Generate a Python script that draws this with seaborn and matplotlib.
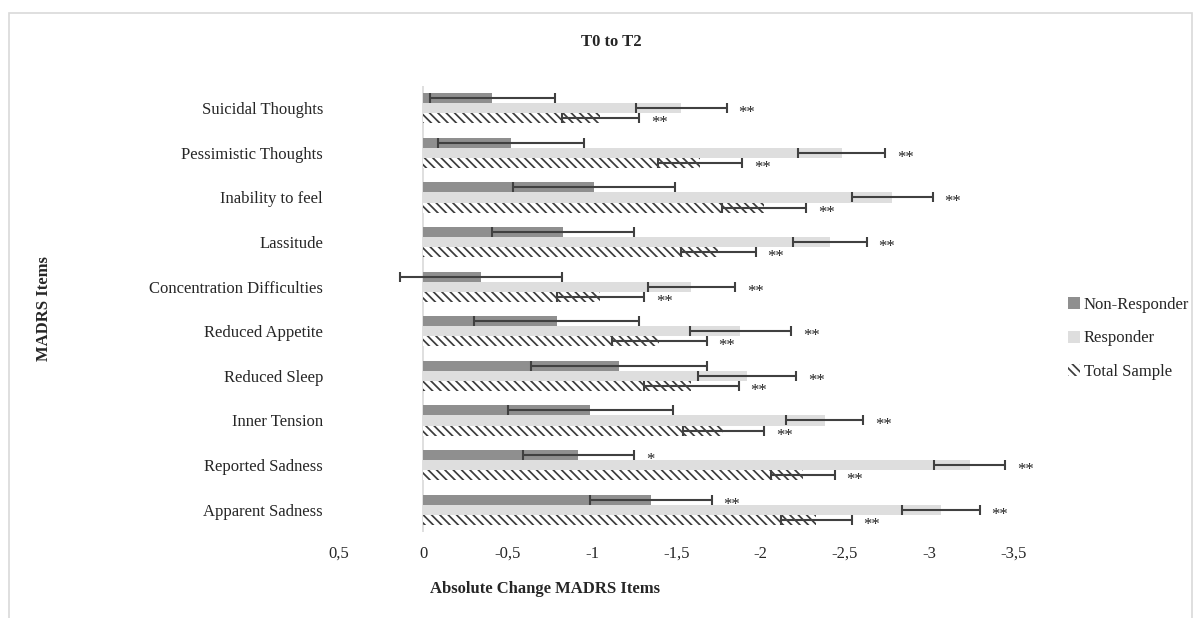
import matplotlib
matplotlib.use("Agg")
import matplotlib.pyplot as plt
import seaborn as sns
import pandas as pd
from matplotlib.patches import Rectangle, Patch

# ---------------- data ----------------
items = ["Suicidal Thoughts", "Pessimistic Thoughts", "Inability to feel", "Lassitude",
         "Concentration Difficulties", "Reduced Appetite", "Reduced Sleep", "Inner Tension",
         "Reported Sadness", "Apparent Sadness"]
groups = ["Non-Responder", "Responder", "Total Sample"]

non_responder = [-0.41, -0.52, -1.01, -0.83, -0.34, -0.79, -1.16, -0.99, -0.92, -1.35]
responder = [-1.53, -2.48, -2.78, -2.41, -1.59, -1.88, -1.92, -2.38, -3.24, -3.07]
total_sample = [-1.05, -1.64, -2.02, -1.75, -1.05, -1.40, -1.59, -1.78, -2.25, -2.33]

non_responder_err = [0.37, 0.43, 0.48, 0.42, 0.48, 0.49, 0.52, 0.49, 0.33, 0.36]
responder_err = [0.27, 0.26, 0.24, 0.22, 0.26, 0.30, 0.29, 0.23, 0.21, 0.23]
total_sample_err = [0.23, 0.25, 0.25, 0.22, 0.26, 0.28, 0.28, 0.24, 0.19, 0.21]

non_responder_sig = ["", "", "", "", "", "", "", "", "*", "**"]
responder_sig = ["**", "**", "**", "**", "**", "**", "**", "**", "**", "**"]
total_sample_sig = ["**", "**", "**", "**", "**", "**", "**", "**", "**", "**"]

x_ticks = [0.5, 0, -0.5, -1, -1.5, -2, -2.5, -3, -3.5]
x_tick_labels = ["0,5", "0", "-0,5", "-1", "-1,5", "-2", "-2,5", "-3", "-3,5"]

title = "T0 to T2"
x_title = "Absolute Change MADRS Items"
y_title = "MADRS Items"

# ---------------- style ----------------
sns.set_theme(style="white")
plt.rcParams["font.family"] = ["Liberation Serif", "DejaVu Serif"]
plt.rcParams["hatch.linewidth"] = 1.25

colors = ["#8f8f8f", "#dedede", "#ffffff"]
hatch_color = "#3c3c3c"
err_color = "#404040"

W, H = 1202, 618
fig = plt.figure(figsize=(W / 100, H / 100), dpi=100)
ax = fig.add_axes([339 / W, 1 - 532 / H, (1013.5 - 339) / W, (532 - 86) / H])

rows = []
vals = [non_responder, responder, total_sample]
for g, v in zip(groups, vals):
    for it, val in zip(items, v):
        rows.append({"item": it, "group": g, "value": val})
df = pd.DataFrame(rows)

sns.barplot(data=df, x="value", y="item", hue="group", order=items, hue_order=groups,
            palette=colors, orient="h", errorbar=None, width=0.68, saturation=1,
            legend=False, ax=ax, linewidth=0)

errs = [non_responder_err, responder_err, total_sample_err]
sigs = [non_responder_sig, responder_sig, total_sample_sig]

bar_containers = list(ax.containers)
for k, cont in enumerate(bar_containers):
    ys, xs = [], []
    for bar in cont:
        ys.append(bar.get_y() + bar.get_height() / 2)
        xs.append(bar.get_width())
        if k == 2:
            bar.set_facecolor("white")
            bar.set_hatch("\\\\\\\\")
            bar.set_edgecolor(hatch_color)
            bar.set_linewidth(0)
    ax.errorbar(xs, ys, xerr=errs[k], fmt="none", ecolor=err_color, elinewidth=1.5,
                capsize=3.6, capthick=1.5, zorder=5)
    for x, y, e, s in zip(xs, ys, errs[k], sigs[k]):
        if s:
            ax.text(x - e - 0.07, y + 0.2, s, ha="left", va="baseline", fontsize=12,
                    color="#222222")

ax.set_ylim(len(items) - 0.5, -0.5)
ax.set_xlim(0.5, -3.5)
ax.set_xticks(x_ticks)
ax.set_xticklabels(x_tick_labels, fontsize=12)
ax.tick_params(axis="x", length=0, pad=10)
ax.tick_params(axis="y", length=0, pad=11.5, labelsize=12)
ax.set_xlabel("")
ax.set_ylabel("")
for sp in ax.spines.values():
    sp.set_visible(False)
ax.axvline(0, color="#d9d9d9", lw=1.2, zorder=0)

fig.text(611 / W, 1 - 42 / H, title, ha="center", va="center", fontsize=12, fontweight="bold")
fig.text(545 / W, 1 - 589 / H, x_title, ha="center", va="center", fontsize=12, fontweight="bold")
fig.text(44.5 / W, 1 - 309 / H, y_title, ha="center", va="center", fontsize=12,
         fontweight="bold", rotation=90)

handles = [Patch(facecolor=colors[0], edgecolor="none"),
           Patch(facecolor=colors[1], edgecolor="none"),
           Patch(facecolor="white", edgecolor=hatch_color, hatch="\\\\\\\\", linewidth=0)]
fig.legend(handles, groups, loc="upper left", bbox_to_anchor=(1068 / W, 1 - 297 / H),
           bbox_transform=fig.transFigure, frameon=False, fontsize=12,
           handlelength=0.7, handleheight=0.7, handletextpad=0.25, labelspacing=1.05,
           borderpad=0, borderaxespad=0)

fig.patches.append(Rectangle((9 / W, -0.05), (1192 - 9) / W, 1.05 - 13 / H,
                             transform=fig.transFigure, fill=False, edgecolor="#d9d9d9",
                             linewidth=1.2))

fig.savefig("out.png", dpi=100)
